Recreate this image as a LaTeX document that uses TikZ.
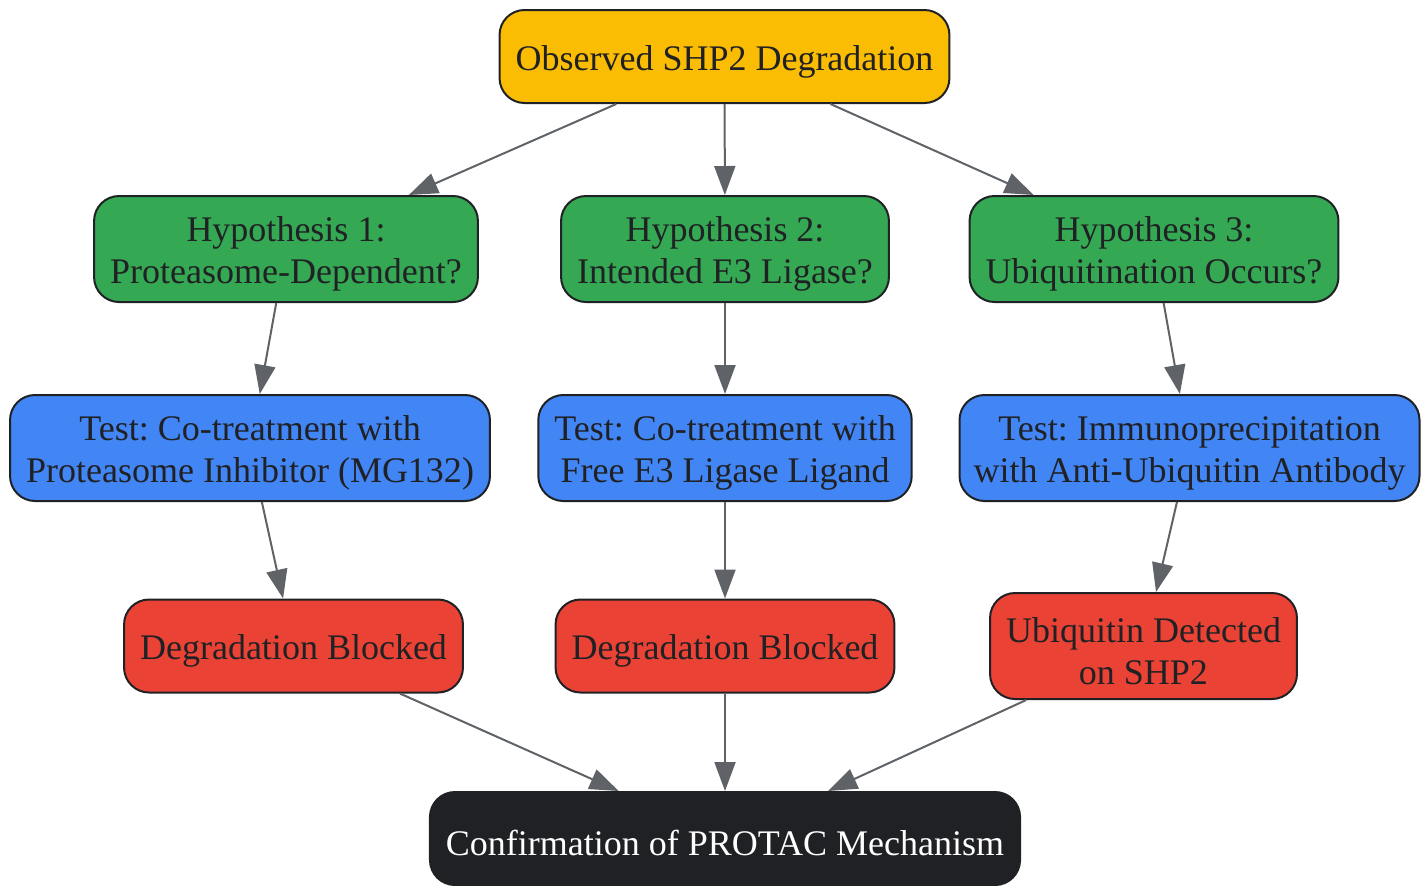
\documentclass[tikz,border=0pt]{standalone}
\usepackage{fontspec}
\setmainfont{Liberation Serif}
\usepackage{tikz}
\usetikzlibrary{positioning}
\usetikzlibrary{arrows.meta}
\usepackage{xcolor}
\frenchspacing

\definecolor{obsyellow}{HTML}{FBBC04}
\definecolor{hypgreen}{HTML}{34A853}
\definecolor{testblue}{HTML}{4285F4}
\definecolor{resred}{HTML}{EA4335}
\definecolor{darkink}{HTML}{202124}
\definecolor{edgegray}{HTML}{5F6368}

% extra room above the first line of a node
\newcommand{\firstline}{\rule{0pt}{17.5pt}}

\tikzset{
    box/.style={draw=darkink, line width=1pt, rectangle, rounded corners=12.5pt,
        align=center, inner xsep=8pt, minimum height=46.5pt, text=darkink,
        font=\fontsize{18}{21}\selectfont},
    twoline/.style={minimum height=53pt},
    link/.style={draw=edgegray, line width=1pt, -{Triangle[length=14.5pt, width=10.5pt]}}
}

\begin{document}
\begin{tikzpicture}[x=0.5pt, y=-0.5pt]
    \useasboundingbox (0,0) rectangle (1428,885);

    % Observation
    \node (obs) [box, fill=obsyellow] at (724.5,56.5) {\firstline Observed SHP2 Degradation};

    % Hypotheses
    \node (hyp1) [box, twoline, fill=hypgreen] at (286,249) {\firstline Hypothesis 1:\\Proteasome-Dependent?};
    \node (hyp2) [box, twoline, fill=hypgreen] at (725,249) {\firstline Hypothesis 2:\\Intended E3 Ligase?};
    \node (hyp3) [box, twoline, fill=hypgreen] at (1154,249) {\firstline Hypothesis 3:\\Ubiquitination Occurs?};

    % Tests
    \node (test1) [box, twoline, fill=testblue] at (250,448) {\firstline Test: Co-treatment with\\Proteasome Inhibitor (MG132)};
    \node (test2) [box, twoline, fill=testblue] at (725,448) {\firstline Test: Co-treatment with\\Free E3 Ligase Ligand};
    \node (test3) [box, twoline, fill=testblue, inner xsep=7pt] at (1189.5,448) {\firstline Test: Immunoprecipitation\\with Anti-Ubiquitin Antibody};

    % Results
    \node (res1) [box, fill=resred] at (293.5,646) {\firstline Degradation Blocked};
    \node (res2) [box, fill=resred] at (725,646) {\firstline Degradation Blocked};
    \node (res3) [box, twoline, fill=resred] at (1143.5,646) {\firstline Ubiquitin Detected\\on SHP2};

    % Conclusion
    \node (conf) [box, draw=darkink, fill=darkink, text=white] at (725,838.5) {\firstline Confirmation of PROTAC Mechanism};

    % Edges
    \draw[link] (obs) -- (hyp1);
    \draw[link] (obs) -- (hyp2);
    \draw[link] (obs) -- (hyp3);
    \draw[link] (hyp1) -- (test1);
    \draw[link] (hyp2) -- (test2);
    \draw[link] (hyp3) -- (test3);
    \draw[link] (test1) -- (res1);
    \draw[link] (test2) -- (res2);
    \draw[link] (test3) -- (res3);
    \draw[link] (res1) -- (conf);
    \draw[link] (res2) -- (conf);
    \draw[link] (res3) -- (conf);
\end{tikzpicture}
\end{document}
